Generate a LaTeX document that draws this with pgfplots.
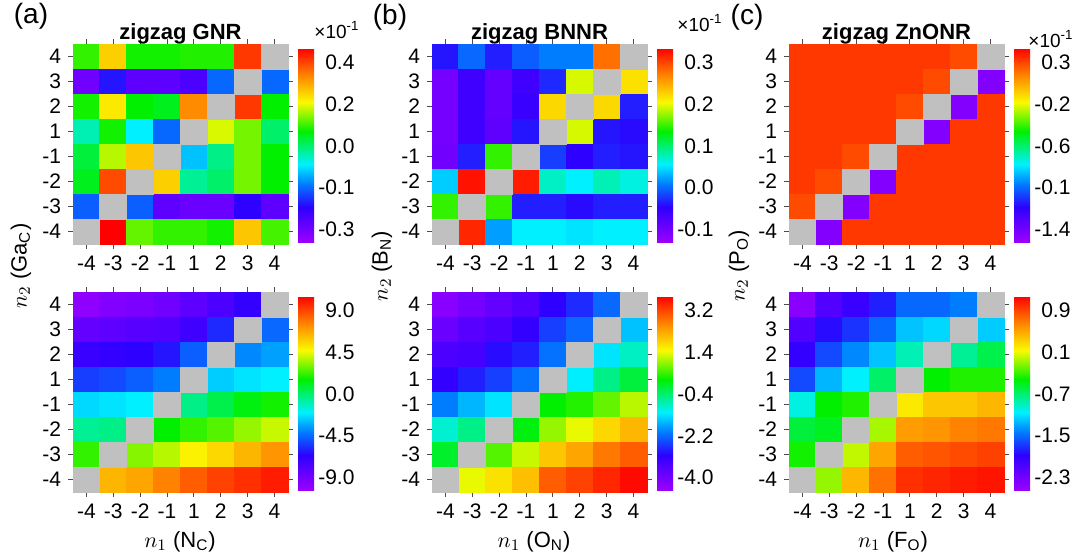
\documentclass[border=0pt]{standalone}
\usepackage{fontspec}
\setmainfont{Liberation Sans}
\usepackage{pgfplots}
\pgfplotsset{compat=1.18}
\usepackage{pgfplotstable}
\usetikzlibrary{calc}

\definecolor{diag}{RGB}{192,192,192}

% rows n2 = 4 ... -4, columns n1 = -4 -3 -2 -1 1 2 3 4 ; nan = diagonal (grey)
% top (a) and (c): colour-bar position 0..1 (their bars are not linear)
\pgfplotstableread{
n2 m4 m3 m2 m1 p1 p2 p3 p4
 4 0.60 0.77 0.58 0.58 0.59 0.59 0.94 nan
 3 0.07 0.20 0.10 0.10 0.13 0.28 nan 0.28
 2 0.58 0.74 0.57 0.55 0.85 nan 0.94 0.57
 1 0.45 0.58 0.40 0.28 nan 0.70 0.64 0.50
-1 0.53 0.68 0.78 nan 0.36 0.48 0.64 0.57
-2 0.55 0.92 nan 0.77 0.47 0.50 0.64 0.57
-3 0.27 nan 0.27 0.10 0.08 0.08 0.18 0.10
-4 nan 1.00 0.63 0.60 0.60 0.58 0.78 0.61
}\gnrA
\pgfplotstableread{
n2 m4 m3 m2 m1 p1 p2 p3 p4
 4 -0.037 0.000 -0.033 -0.005 0.009 0.009 0.279 nan
 3 -0.102 -0.060 -0.088 -0.060 -0.028 0.195 nan 0.219
 2 -0.102 -0.060 -0.088 -0.056 0.223 nan 0.223 -0.033
 1 -0.102 -0.060 -0.084 -0.037 nan 0.195 -0.037 -0.042
-1 -0.098 -0.033 0.149 nan -0.019 -0.047 -0.033 -0.037
-2 0.042 0.326 nan 0.321 0.074 0.056 0.079 0.065
-3 0.149 nan 0.149 -0.033 -0.033 -0.042 -0.033 -0.033
-4 nan 0.316 0.023 0.056 0.056 0.051 0.056 0.056
}\bnnrA
\pgfplotstableread{
n2 m4 m3 m2 m1 p1 p2 p3 p4
 4 0.94 0.94 0.94 0.94 0.94 0.94 0.92 nan
 3 0.94 0.94 0.94 0.94 0.94 0.92 nan 0.04
 2 0.94 0.94 0.94 0.94 0.92 nan 0.04 0.94
 1 0.94 0.94 0.94 0.94 nan 0.04 0.94 0.94
-1 0.94 0.94 0.92 nan 0.94 0.94 0.94 0.94
-2 0.94 0.92 nan 0.04 0.94 0.94 0.94 0.94
-3 0.92 nan 0.04 0.94 0.94 0.94 0.94 0.94
-4 nan 0.04 0.94 0.94 0.94 0.94 0.94 0.94
}\znoA
\pgfplotstableread{
n2 m4 m3 m2 m1 p1 p2 p3 p4
 4 -9.94 -9.52 -9.31 -8.90 -8.27 -7.64 -6.80 nan
 3 -8.48 -8.27 -8.06 -7.85 -7.22 -5.76 nan -4.50
 2 -7.01 -6.80 -6.59 -6.17 -4.71 nan -3.87 -3.45
 1 -5.34 -5.13 -4.71 -4.08 nan -2.62 -2.20 -1.99
-1 -2.41 -2.20 -1.99 nan -0.31 0.52 1.36 1.78
-2 -0.52 -0.31 nan 1.57 2.20 2.62 3.45 4.08
-3 2.20 nan 3.24 3.87 4.92 5.55 6.38 7.22
-4 nan 6.38 6.80 7.64 8.48 9.10 9.52 9.94
}\gnrB
\pgfplotstableread{
n2 m4 m3 m2 m1 p1 p2 p3 p4
 4 -4.29 -4.04 -3.79 -3.54 -3.04 -2.70 -2.20 nan
 3 -3.87 -3.62 -3.46 -3.12 -2.53 -2.20 nan -1.53
 2 -3.46 -3.37 -2.95 -2.79 -2.12 nan -1.28 -0.86
 1 -3.12 -2.79 -2.53 -2.12 nan -1.20 -0.53 -0.11
-1 -2.03 -1.61 -1.28 nan 0.23 0.40 0.73 1.15
-2 -0.94 -0.53 nan 0.14 0.98 1.40 1.82 2.15
-3 -0.02 nan 0.65 1.23 1.99 2.32 2.74 2.99
-4 nan 1.40 1.73 2.07 2.99 3.24 3.49 3.74
}\bnnrB
\pgfplotstableread{
n2 m4 m3 m2 m1 p1 p2 p3 p4
 4 -2.43 -2.10 -1.95 -1.76 -1.50 -1.50 -1.43 nan
 3 -2.10 -1.83 -1.69 -1.50 -1.20 -1.13 nan -1.17
 2 -1.91 -1.61 -1.39 -1.20 -0.87 nan -0.79 -0.61
 1 -1.61 -1.24 -1.05 -0.68 nan -0.42 -0.35 -0.35
-1 -0.98 -0.42 -0.35 nan 0.21 0.36 0.36 0.43
-2 -0.57 -0.50 nan -0.05 0.55 0.58 0.66 0.70
-3 -0.38 nan 0.01 0.51 0.81 0.84 0.88 0.92
-4 nan -0.09 0.43 0.73 0.99 1.03 1.07 1.10
}\znoB

\pgfplotsset{
  colormap={rbw}{rgb255(0cm)=(155,0,255); rgb255(18cm)=(45,0,255); rgb255(30cm)=(0,125,255);
    rgb255(40cm)=(0,240,255); rgb255(57cm)=(0,240,0); rgb255(72cm)=(250,250,0);
    rgb255(85cm)=(255,140,0); rgb255(100cm)=(255,0,0)},
  hm/.style={
    scale only axis, width=107.5pt, height=100pt, anchor=south west,
    xmin=0.5, xmax=8.5, ymin=0.5, ymax=8.5,
    xtick={1,...,8}, ytick={1,...,8},
    xticklabels={-4,-3,-2,-1,1,2,3,4}, yticklabels={-4,-3,-2,-1,1,2,3,4},
    tick align=outside, major tick length=2.5pt,
    tick style={black!70, line width=0.5pt},
    axis line style={black!70, line width=0.5pt},
    tick label style={font=\fontsize{10.5}{12}\selectfont},
    title style={font=\bfseries\fontsize{11}{13}\selectfont, yshift=-9.5pt},
    axis on top,
    colormap name=rbw,
    colorbar,
    colorbar style={width=8pt, height=97pt,
      at={($(parent axis.east)+(-3.5pt,-0.5pt)$)}, anchor=west,
      axis line style={draw=none}, major tick length=0pt,
      yticklabel style={font=\fontsize{10.5}{12}\selectfont,
        text width=18.5pt, align=right, inner xsep=1.5pt}},
  },
}

% one scatter column per n1; the diagonal n1 = n2 has no value and is grey
\newcommand\cells[1]{%
  \pgfplotsinvokeforeach{1,...,8}{
    \addplot[scatter, only marks, mark=square*, mark size=6.25pt,
      mark options={xscale=1.075}, point meta=explicit,
      scatter/use mapped color={draw=mapped color, fill=mapped color}]
      table[x expr=##1, y expr={\thisrow{n2}+4+(\thisrow{n2}<0)}, meta index=##1] {#1};
  }
  \addplot[only marks, mark=square*, mark size=6.25pt,
    mark options={xscale=1.075, draw=diag, fill=diag}]
    coordinates {(1,1) (2,2) (3,3) (4,4) (5,5) (6,6) (7,7) (8,8)};
}

\begin{document}
\begin{tikzpicture}
\useasboundingbox (0,0) rectangle (540pt,279.5pt);

% top row
\begin{axis}[hm, at={(36.5pt,157.5pt)}, title={zigzag GNR},
  point meta min=0, point meta max=1,
  colorbar style={ytick={0.065,0.28,0.495,0.71,0.925}, yticklabels={-0.3,-0.1,0.0,0.2,0.4}}]
\cells{\gnrA}
\end{axis}
\begin{axis}[hm, at={(216pt,157.5pt)}, title={zigzag BNNR},
  point meta min=-0.130, point meta max=0.335,
  colorbar style={ytick={-0.1,0,0.1,0.2,0.3}, yticklabels={-0.1,0.0,0.1,0.2,0.3}}]
\cells{\bnnrA}
\end{axis}
\begin{axis}[hm, at={(394.5pt,157.5pt)}, title={zigzag ZnONR},
  point meta min=0, point meta max=1,
  colorbar style={ytick={0.065,0.28,0.495,0.71,0.925}, yticklabels={-1.4,-0.1,-0.6,-0.2,0.3}}]
\cells{\znoA}
\end{axis}

% bottom row
\begin{axis}[hm, at={(36.5pt,33.5pt)},
  point meta min=-10.36, point meta max=10.57,
  colorbar style={ytick={-9,-4.5,0,4.5,9}, yticklabels={-9.0,-4.5,0.0,4.5,9.0}}]
\cells{\gnrB}
\end{axis}
\begin{axis}[hm, at={(216pt,33.5pt)},
  point meta min=-4.544, point meta max=3.828,
  colorbar style={ytick={-4,-2.2,-0.4,1.4,3.2}, yticklabels={-4.0,-2.2,-0.4,1.4,3.2}}]
\cells{\bnnrB}
\end{axis}
\begin{axis}[hm, at={(394.5pt,33.5pt)},
  point meta min=-2.542, point meta max=1.179,
  colorbar style={ytick={-2.3,-1.5,-0.7,0.1,0.9}, yticklabels={-2.3,-1.5,-0.7,0.1,0.9}}]
\cells{\znoB}
\end{axis}

% panel letters, scale factors, axis labels
\begin{scope}[every node/.style={font=\fontsize{14}{16}\selectfont}]
\node at (15.5pt,271.5pt) {(a)};
\node at (195pt,271pt) {(b)};
\node at (373.5pt,271pt) {(c)};
\end{scope}
\begin{scope}[every node/.style={font=\fontsize{9.5}{11}\selectfont}]
\node at (168.5pt,264.5pt) {×10\textsuperscript{-1}};
\node at (350pt,268pt) {×10\textsuperscript{-1}};
\node at (525.5pt,260pt) {×10\textsuperscript{-1}};
\end{scope}
\begin{scope}[every node/.style={font=\fontsize{11}{13}\selectfont}]
\node[rotate=90] at (10.5pt,146.5pt) {$n_2$ (Ga\textsubscript{C})};
\node[rotate=90] at (191pt,146.5pt) {$n_2$ (B\textsubscript{N})};
\node[rotate=90] at (369.5pt,146.5pt) {$n_2$ (P\textsubscript{O})};
\node at (90pt,8.5pt) {$n_1$ (N\textsubscript{C})};
\node at (267pt,8.5pt) {$n_1$ (O\textsubscript{N})};
\node at (446.5pt,8.5pt) {$n_1$ (F\textsubscript{O})};
\end{scope}
\end{tikzpicture}
\end{document}
